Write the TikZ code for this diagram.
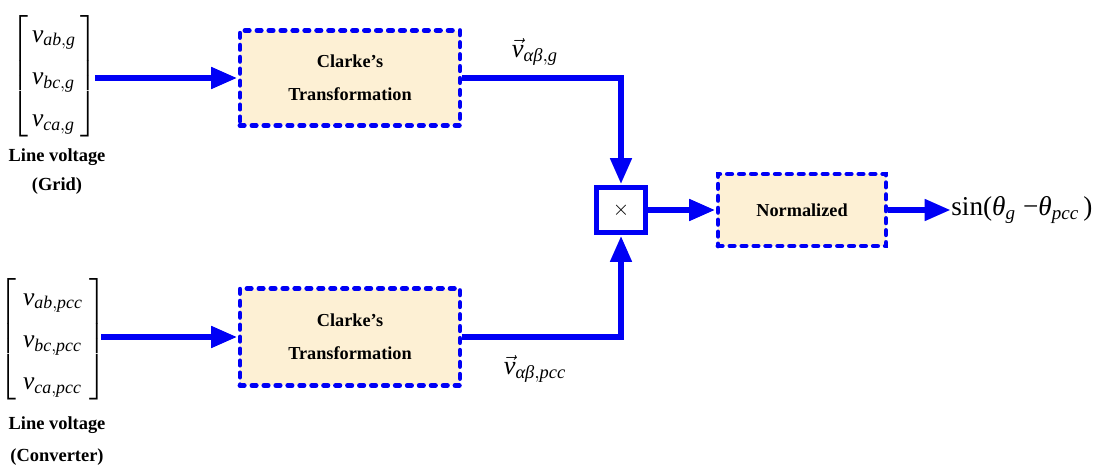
\documentclass[tikz,border=0pt]{standalone}
\usepackage{amsmath}
\usepackage{fontspec}
\setmainfont{Liberation Serif}
\usetikzlibrary{arrows.meta,calc}
\definecolor{bblue}{RGB}{0,0,245}
\definecolor{bfill}{RGB}{253,240,212}
\newcommand\vsub[1]{\textit{v}_{#1}}
\begin{document}
\begin{tikzpicture}[x=0.02cm,y=-0.02cm,
  conn/.style={draw=bblue,line width=3.8pt,-{Triangle[length=15pt,width=11.5pt]}},
  dbox/.style={draw=bblue,fill=bfill,line width=2.8pt,line cap=round,dash pattern=on 2.4pt off 4.4pt,
     font=\fontsize{10.4}{12.5}\selectfont\bfseries,align=center,inner sep=0pt},
  lbl/.style={font=\fontsize{10.5}{12}\selectfont\bfseries,inner sep=0pt},
  mtx/.style={font=\fontsize{14.5}{17}\selectfont,inner sep=0pt},
  vlab/.style={font=\fontsize{15}{17}\selectfont,inner sep=0pt}
]
\useasboundingbox (0,0) rectangle (1096,465);

% input matrices
\node[mtx] (mA) at (54,76) {$\renewcommand\arraystretch{1.42}\left[\begin{array}{@{\,}l@{\,}}
  \vsub{\textit{ab},\textit{g}}\\ \vsub{\textit{bc},\textit{g}}\\ \vsub{\textit{ca},\textit{g}}\end{array}\right]$};
\node[mtx] (mB) at (53,339) {$\renewcommand\arraystretch{1.42}\left[\begin{array}{@{\;}l@{\;}}
  \vsub{\textit{ab},\textit{pcc}}\\ \vsub{\textit{bc},\textit{pcc}}\\ \vsub{\textit{ca},\textit{pcc}}\end{array}\right]$};

\node[lbl] (lA1) at (57,157) {Line voltage};
\node[lbl] (lA2) at (57,186) {(Grid)};
\node[lbl] (lB1) at (57,425) {Line voltage};
\node[lbl] (lB2) at (57,457) {(Converter)};

% boxes
\node[dbox,minimum width=4.4cm,minimum height=1.9cm] (c1) at (350,78)
  {Clarke’s\\[6pt]Transformation};
\node[dbox,minimum width=4.4cm,minimum height=1.94cm] (c2) at (350,337)
  {Clarke’s\\[6pt]Transformation};
\node[draw=bblue,fill=white,line width=3.4pt,minimum width=0.98cm,minimum height=0.9cm,inner sep=0pt,
  font=\fontsize{12}{12}\selectfont] (mult) at (621,210) {$\times$};
\node[dbox,minimum width=3.36cm,minimum height=1.44cm] (norm) at (802,210) {Normalized};
\node[vlab,font=\fontsize{15.5}{18}\selectfont,anchor=west] (out) at (951,210)
  {$\textrm{sin(}\textit{θ}_{\textit{g}}\;\textrm{−}\textit{θ}_{\textit{pcc}}\,\textrm{)}$};

% labels
\node[vlab] (la) at (535,52) {$\vec{\textit{v}}_{\textit{αβ},\textit{g}}$};
\node[vlab] (lb) at (535,369) {$\vec{\textit{v}}_{\textit{αβ},\textit{pcc}}$};

% connectors
\draw[conn] ([xshift=-0.04cm]mA.east |- c1.west) -- (c1.west);
\draw[conn] ([xshift=-0.12cm]mB.east |- c2.west) -- (c2.west);
\draw[conn] (c1.east) -| (mult.north);
\draw[conn] (c2.east) -| (mult.south);
\draw[conn] (mult.east) -- (norm.west);
\draw[conn] (norm.east) -- (norm.east -| out.west);
\end{tikzpicture}
\end{document}
